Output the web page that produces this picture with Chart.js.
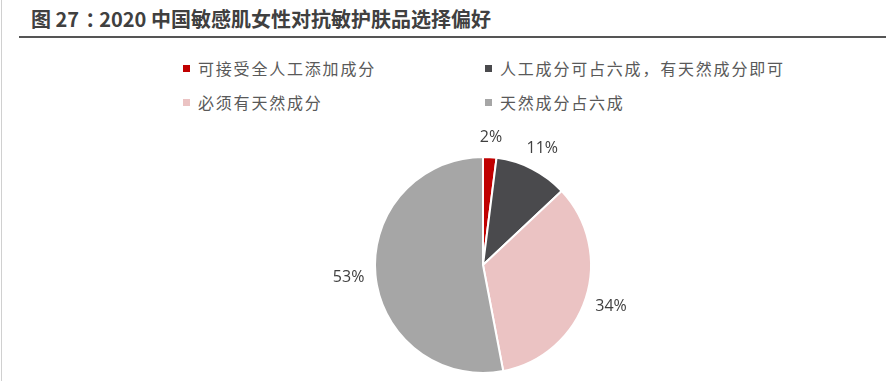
<!DOCTYPE html>
<html lang="zh">
<head>
  <meta charset="UTF-8">
  <title>2020 中国敏感肌女性对抗敏护肤品选择偏好</title>
  <script src="https://cdn.jsdelivr.net/npm/chart.js"></script>
  <style>
    body { margin: 0; width: 886px; height: 381px; background: #fff; position: relative; overflow: hidden; font-family: "Noto Sans CJK SC", sans-serif; }
    #leftLine { position: absolute; left: 1px; top: 0; width: 1px; height: 381px; background: #d0d0d0; }
    #title { position: absolute; left: 31px; top: 4px; font-size: 20px; font-weight: bold; color: #404040; white-space: nowrap; }
    #title .colon { position: relative; left: 6px; }
    #rule { position: absolute; left: 19px; top: 36px; width: 867px; height: 2px; background: #555; }
    #legend { position: absolute; left: 0; top: 0; }
    .item { position: absolute; white-space: nowrap; font-size: 16px; letter-spacing: 1.8px; color: #595959; line-height: 20px; }
    .box { display: inline-block; width: 7px; height: 7px; margin-right: 8px; vertical-align: 3px; }
    #wrap { position: absolute; left: 0; top: 0; width: 886px; height: 381px; }
  </style>
</head>
<body>
  <div id="leftLine"></div>
  <div id="title">图 27<span class="colon">：</span>2020 中国敏感肌女性对抗敏护肤品选择偏好</div>
  <div id="rule"></div>
  <div id="legend"></div>
  <div id="wrap"><canvas id="pie"></canvas></div>
  <script>
    const labels = ['可接受全人工添加成分', '人工成分可占六成，有天然成分即可', '必须有天然成分', '天然成分占六成'];
    const values = [2, 11, 34, 53];
    const colors = ['#C00000', '#4A4A4D', '#EBC3C3', '#A6A6A6'];

    // legend, two columns
    const legendPos = [[183, 58], [485, 58], [183, 92], [485, 92]];
    const legend = document.getElementById('legend');
    labels.forEach((l, i) => {
      const d = document.createElement('div');
      d.className = 'item';
      d.style.left = legendPos[i][0] + 'px';
      d.style.top = legendPos[i][1] + 'px';
      d.innerHTML = '<span class="box" style="background:' + colors[i] + '"></span>' + l;
      legend.appendChild(d);
    });

    const outsideLabels = {
      id: 'outsideLabels',
      afterDatasetsDraw(chart) {
        const ctx = chart.ctx;
        const meta = chart.getDatasetMeta(0);
        ctx.save();
        ctx.font = '16px "Open Sans", sans-serif';
        ctx.fillStyle = '#404040';
        ctx.textAlign = 'center';
        ctx.textBaseline = 'middle';
        meta.data.forEach((arc, i) => {
          const p = arc.getProps(['x', 'y', 'startAngle', 'endAngle', 'outerRadius'], true);
          const mid = (p.startAngle + p.endAngle) / 2;
          const r = p.outerRadius + 19 + 8 * Math.abs(Math.cos(mid));
          ctx.fillText(values[i] + '%', p.x + Math.cos(mid) * r, p.y + Math.sin(mid) * r);
        });
        ctx.restore();
      }
    };

    new Chart(document.getElementById('pie'), {
      type: 'pie',
      data: {
        labels: labels,
        datasets: [{
          data: values,
          backgroundColor: colors,
          borderColor: '#fff',
          borderWidth: 2,
          hoverOffset: 0
        }]
      },
      options: {
        responsive: true,
        maintainAspectRatio: false,
        animation: false,
        layout: { padding: { left: 374, right: 294, top: 155, bottom: 6 } },
        plugins: {
          legend: { display: false },
          tooltip: { enabled: false }
        }
      },
      plugins: [outsideLabels]
    });
  </script>
</body>
</html>
